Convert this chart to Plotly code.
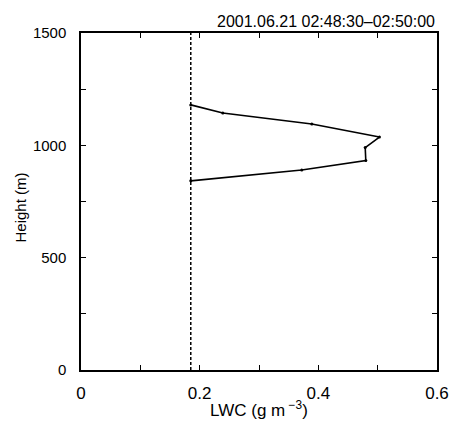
import plotly.graph_objects as go

# LWC profile (g m^-3) versus height (m)
lwc = [0.185, 0.239, 0.389, 0.503, 0.479, 0.480, 0.372, 0.185]
height = [1180, 1144, 1095, 1037, 990, 932, 890, 842]

# Threshold line
threshold_lwc = 0.185
threshold_height = [0, 1500]

x_ticks = [0, 0.2, 0.4, 0.6]
x_labels = ["0", "0.2", "0.4", "0.6"]
x_minor = [0.1, 0.3, 0.5]
y_ticks = [0, 500, 1000, 1500]
y_labels = ["0", "500", "1000", "1500"]
y_minor = [250, 750, 1250]

font = "Liberation Sans, Arial, sans-serif"

fig = go.Figure()
fig.add_trace(go.Scatter(
    x=[threshold_lwc, threshold_lwc], y=threshold_height, mode="lines",
    line=dict(color="black", width=1.5, dash="3px,2px"), showlegend=False))
fig.add_trace(go.Scatter(
    x=lwc, y=height, mode="lines+markers",
    line=dict(color="black", width=1.6),
    marker=dict(color="black", size=3), showlegend=False))

axis_common = dict(
    showgrid=False, zeroline=False, showline=True, linecolor="black", linewidth=1.5,
    mirror="allticks", ticks="inside", ticklen=5, tickcolor="black", tickwidth=1)
minor_common = dict(ticks="inside", ticklen=5, tickcolor="black", tickwidth=1, showgrid=False)

fig.update_xaxes(range=[0, 0.6], tickmode="array", tickvals=x_ticks, ticktext=x_labels,
                 minor=dict(tickmode="array", tickvals=x_minor, **minor_common),
                 tickfont=dict(family=font, size=17, color="black"), ticklabelstandoff=7,
                 **axis_common)
fig.update_yaxes(range=[0, 1500], tickmode="array", tickvals=y_ticks, ticktext=y_labels,
                 minor=dict(tickmode="array", tickvals=y_minor, **minor_common),
                 tickfont=dict(family=font, size=15, color="black"), ticklabelstandoff=10,
                 **axis_common)

fig.add_annotation(text="2001.06.21 02:48:30–02:50:00", xref="paper", yref="paper",
                   x=1.0, y=1.0, xanchor="right", yanchor="bottom", yshift=1, showarrow=False,
                   font=dict(family=font, size=16, color="black"))
fig.add_annotation(text="LWC (g m<sup> −3</sup>)", xref="paper", yref="paper",
                   x=0.5, y=0, xanchor="center", yanchor="middle", yshift=-39, showarrow=False,
                   font=dict(family=font, size=17, color="black"))
fig.add_annotation(text="Height (m)", xref="paper", yref="paper", textangle=-90,
                   x=0, y=0.5, xanchor="center", yanchor="middle", xshift=-61, yshift=-6,
                   showarrow=False, font=dict(family=font, size=15, color="black"))

fig.update_layout(width=461, height=423, paper_bgcolor="white", plot_bgcolor="white",
                  margin=dict(l=81, r=13, t=33, b=53))

fig.write_html("out.html")
